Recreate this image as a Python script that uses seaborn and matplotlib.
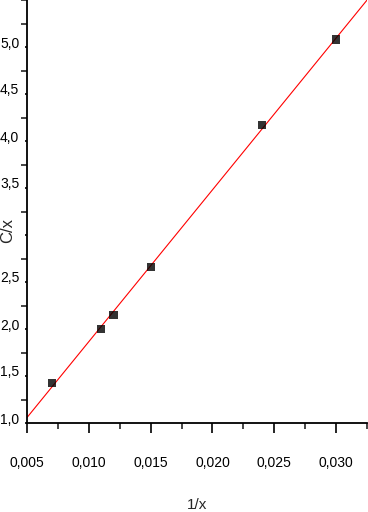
import matplotlib
matplotlib.use("Agg")
import matplotlib.pyplot as plt
import matplotlib.transforms as mtransforms
from matplotlib.ticker import MultipleLocator
import seaborn as sns
import pandas as pd

# data
inv_x = [0.007, 0.011, 0.012, 0.015, 0.024, 0.030]
c_over_x = [1.43, 2.00, 2.15, 2.66, 4.17, 5.08]

x_ticks = [0.005, 0.010, 0.015, 0.020, 0.025, 0.030]
x_labels = ["0,005", "0,010", "0,015", "0,020", "0,025", "0,030"]
y_ticks = [1.0, 1.5, 2.0, 2.5, 3.0, 3.5, 4.0, 4.5, 5.0]
y_labels = ["1,0", "1,5", "2,0", "2,5", "", "3,5", "4,0", "4,5", "5,0"]

df = pd.DataFrame({"1/x": inv_x, "C/x": c_over_x})

sns.set_style("ticks")
plt.rcParams["font.family"] = ["Liberation Sans Narrow", "Liberation Sans", "DejaVu Sans"]

fig = plt.figure(figsize=(3.68, 5.12), dpi=100)
ax = fig.add_axes([27 / 368, 89 / 512, 340 / 368, 423 / 512])
ax.set_xlim(0.005, 0.0325)
ax.set_ylim(1.0, 5.5)

sns.regplot(data=df, x="1/x", y="C/x", ax=ax, ci=None, truncate=False,
            marker="s",
            scatter_kws=dict(s=34, color="black", edgecolors="none", zorder=3),
            line_kws=dict(color="red", lw=0.8, zorder=2))
ax.set_xlim(0.005, 0.0325)
ax.set_ylim(1.0, 5.5)

sns.despine(ax=ax)
for s in ("left", "bottom"):
    ax.spines[s].set_linewidth(1.3)
    ax.spines[s].set_color("black")

ax.set_xticks(x_ticks)
ax.set_xticklabels(x_labels)
ax.set_yticks(y_ticks)
ax.set_yticklabels(y_labels)
ax.xaxis.set_minor_locator(MultipleLocator(0.0025))
ax.yaxis.set_minor_locator(MultipleLocator(0.25))

ax.tick_params(axis="x", which="major", direction="out", length=7.5, width=1.2,
               pad=16, labelsize=10, colors="black")
ax.tick_params(axis="x", which="minor", direction="out", length=4.3, width=1.2)
ax.tick_params(axis="y", which="major", direction="out", length=1.5, width=1.2,
               pad=4, labelsize=10, colors="black")
ax.tick_params(axis="y", which="minor", direction="out", length=4.5, width=1.2)

offset = mtransforms.ScaledTranslation(0, 5 / 100, fig.dpi_scale_trans)
for lab in ax.get_yticklabels():
    lab.set_transform(lab.get_transform() + offset)

ax.set_xlabel("1/x", fontsize=11)
ax.set_ylabel("C/x", fontsize=12)
ax.xaxis.set_label_coords(0.5, -0.177)
ax.yaxis.set_label_coords(-0.036, 0.455)

fig.savefig("out.png", dpi=100)
